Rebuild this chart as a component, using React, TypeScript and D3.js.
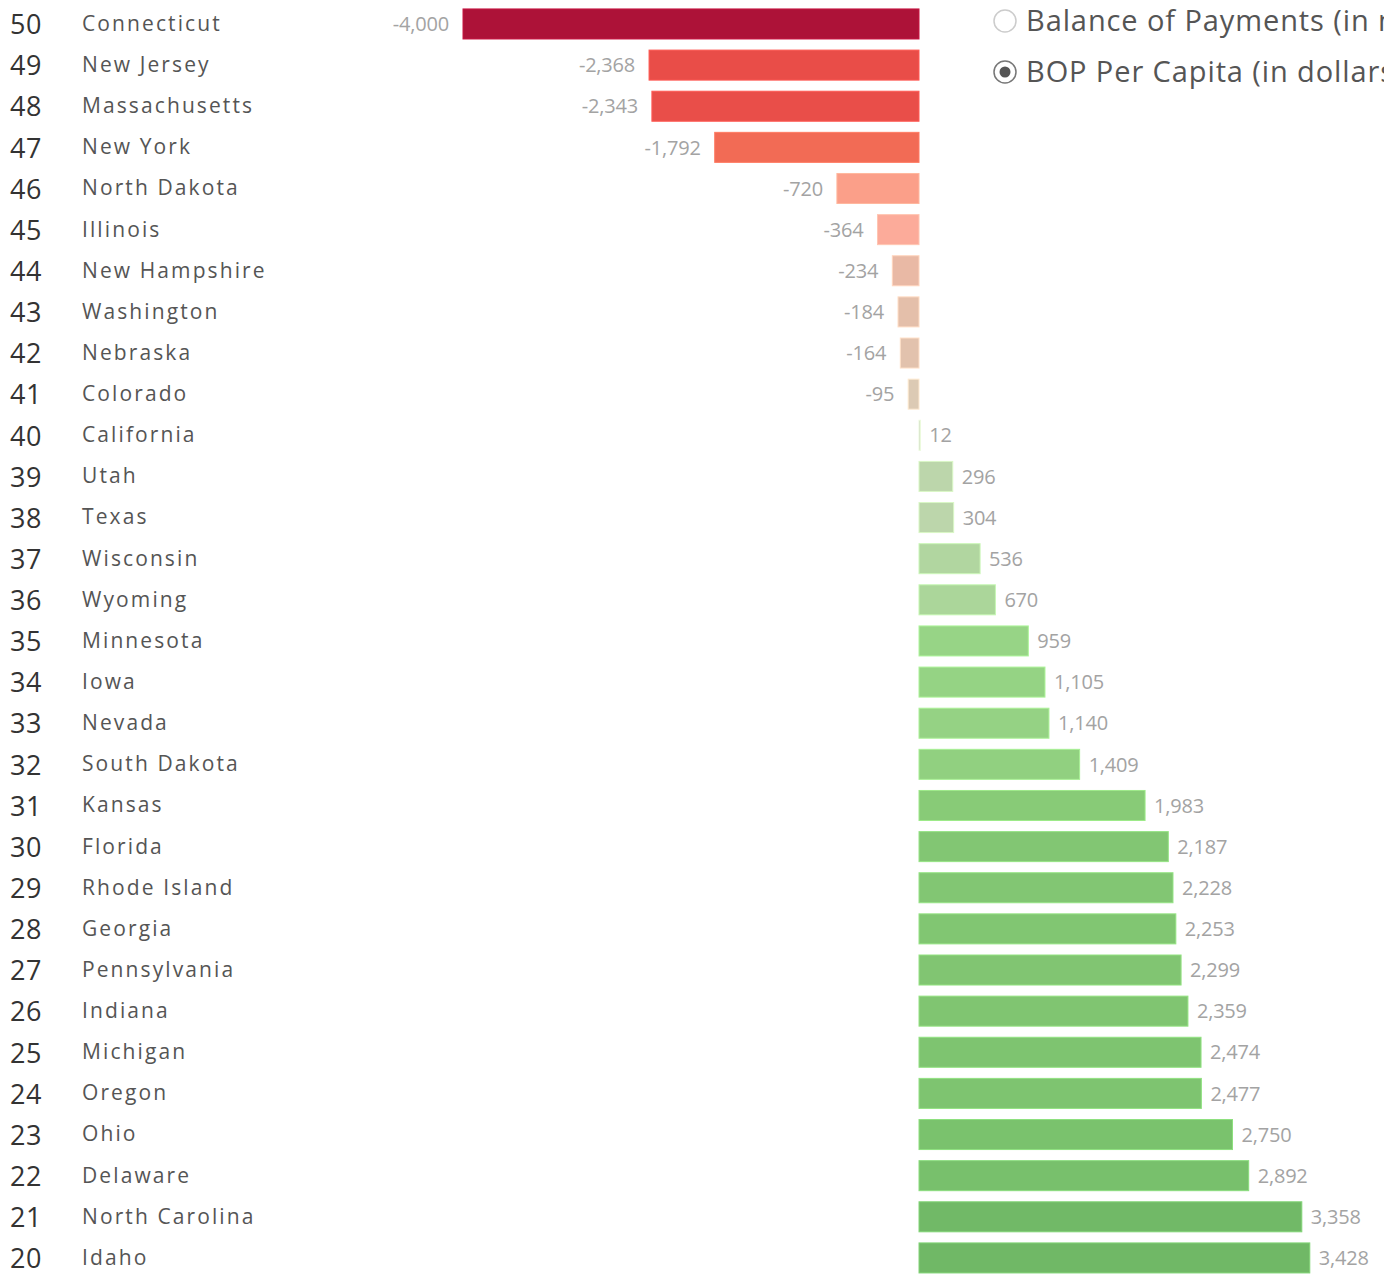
import * as d3 from 'd3';

const ranks = [50, 49, 48, 47, 46, 45, 44, 43, 42, 41, 40, 39, 38, 37, 36, 35, 34, 33, 32, 31, 30, 29, 28, 27, 26, 25, 24, 23, 22, 21, 20];

const states = [
  'Connecticut', 'New Jersey', 'Massachusetts', 'New York', 'North Dakota', 'Illinois',
  'New Hampshire', 'Washington', 'Nebraska', 'Colorado', 'California', 'Utah', 'Texas',
  'Wisconsin', 'Wyoming', 'Minnesota', 'Iowa', 'Nevada', 'South Dakota', 'Kansas',
  'Florida', 'Rhode Island', 'Georgia', 'Pennsylvania', 'Indiana', 'Michigan', 'Oregon',
  'Ohio', 'Delaware', 'North Carolina', 'Idaho',
];

const bopPerCapita = [
  -4000, -2368, -2343, -1792, -720, -364, -234, -184, -164, -95, 12, 296, 304, 536, 670,
  959, 1105, 1140, 1409, 1983, 2187, 2228, 2253, 2299, 2359, 2474, 2477, 2750, 2892, 3358, 3428,
];

const measures = ['Balance of Payments (in millions)', 'BOP Per Capita (in dollars)'];
const selectedMeasure = 1;

// piecewise diverging palette
const colorStops = [-4000, -2368, -1792, -720, -364, -234, -95, 12, 300, 670, 959, 1409, 1983, 2200, 2750, 3428];
const colorValues = [
  '#ad1238', '#e94d48', '#f26b55', '#fb9f89', '#fcab9a', '#e9b9a5', '#dccab4', '#cdd9c0',
  '#bcd6ab', '#abd69a', '#97d486', '#91d080', '#88cb77', '#82c673', '#7ac26d', '#70b866',
];

const W = 1384;
const H = 1283;

// tableau shows a plain hyphen for negatives
const fmt = d3.formatLocale({ decimal: '.', thousands: ',', grouping: [3], currency: ['$', ''], minus: '-' }).format(',');

export default function App() {
  const x = d3.scaleLinear().domain([-4000, 4000]).range([463, 1375]);
  const y = d3
    .scaleBand<string>()
    .domain(states)
    .range([3.4, 1278.5])
    .paddingInner(0.27)
    .paddingOuter(0.135);
  const color = d3
    .scaleLinear<string>()
    .domain(colorStops)
    .range(colorValues)
    .interpolate(d3.interpolateRgb);
  const bw = y.bandwidth();

  return (
    <div style={{ position: 'absolute', left: 0, top: 0 }}>
      <svg width={W} height={H} style={{ display: 'block', fontFamily: 'Open Sans, sans-serif' }}>
        <rect width={W} height={H} fill="#fff" />
        {states.map((s, i) => {
          const v = bopPerCapita[i];
          const cy = (y(s) ?? 0) + bw / 2;
          const x0 = x(Math.min(0, v));
          const x1 = x(Math.max(0, v));
          const w = Math.max(1.5, x1 - x0);
          return (
            <g key={s}>
              <text x={10} y={cy} dy="0.38em" fontSize={27} fill="#333" letterSpacing={0.5}>
                {ranks[i]}
              </text>
              <text x={82} y={cy} dy="0.33em" fontSize={21} fill="#555" letterSpacing={2.1}>
                {s}
              </text>
              <rect
                x={x0}
                y={y(s)}
                width={w}
                height={bw}
                fill={color(v)}
                stroke={d3.color(color(v))?.brighter(0.4).toString()}
                strokeWidth={1}
              />
              <text
                x={v < 0 ? x0 - 14 : x1 + 9}
                y={cy}
                dy="0.36em"
                textAnchor={v < 0 ? 'end' : 'start'}
                fontSize={20}
                fill="#a3a3a3"
                letterSpacing={-0.2}
              >
                {fmt(v)}
              </text>
            </g>
          );
        })}
        {measures.map((m, i) => {
          const cy = 21 + i * 51;
          return (
            <g key={m}>
              <circle cx={1005} cy={cy} r={11} fill="#fff" stroke={i === selectedMeasure ? '#777' : '#ccc'} strokeWidth={1.5} />
              {i === selectedMeasure && <circle cx={1005} cy={cy} r={5.5} fill="#555" />}
              <text x={1026} y={cy} dy="0.36em" fontSize={29} fill="#555" letterSpacing={0.9}>
                {m}
              </text>
            </g>
          );
        })}
      </svg>
    </div>
  );
}
